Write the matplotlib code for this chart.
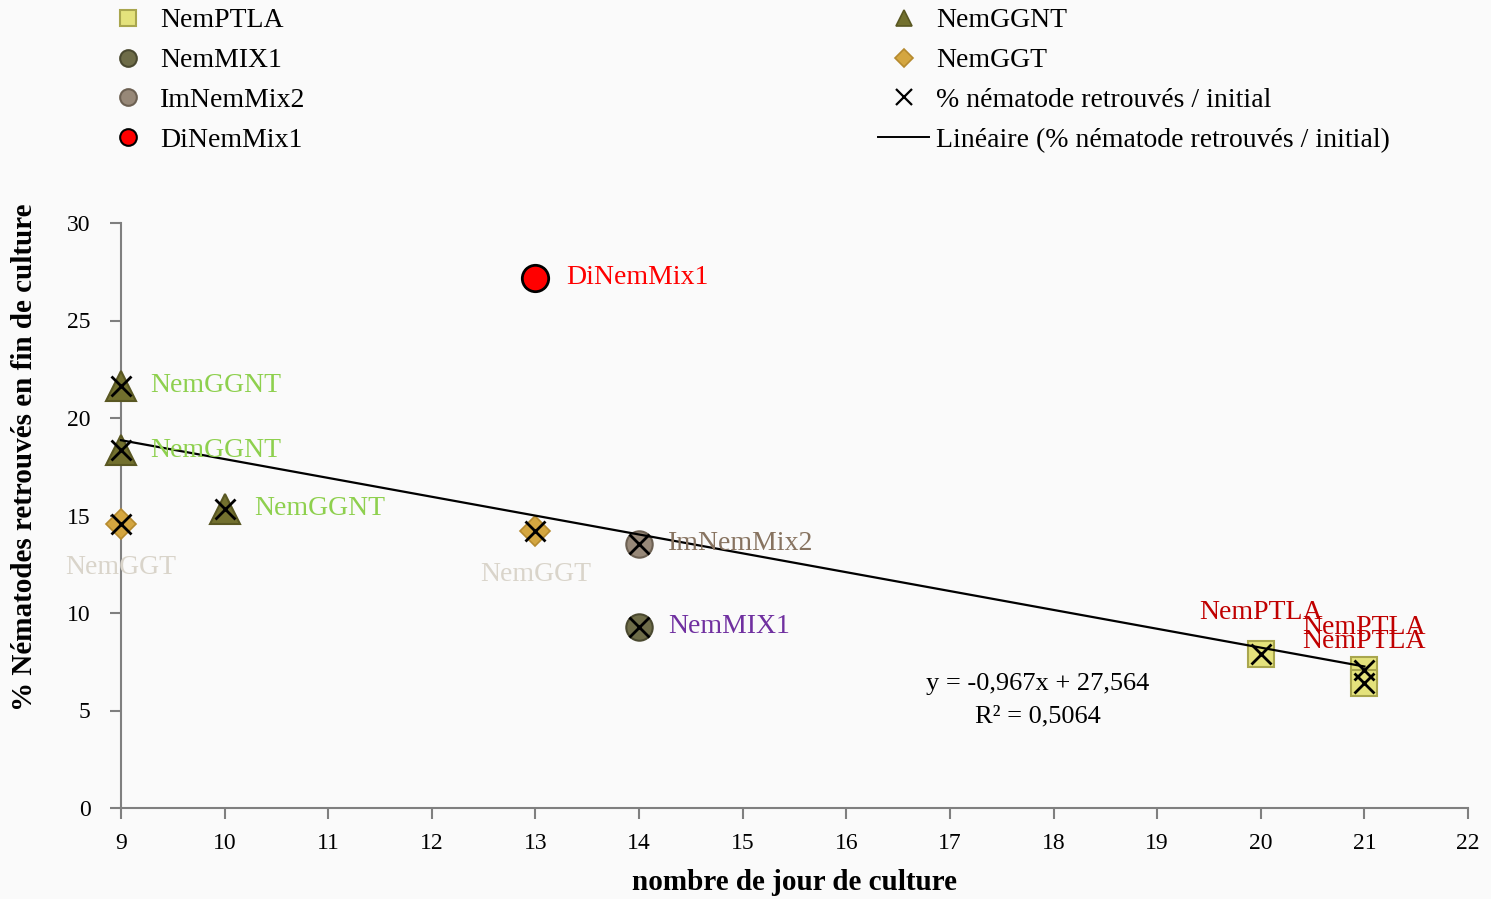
import numpy as np
import matplotlib.pyplot as plt
from matplotlib.lines import Line2D

plt.rcParams['font.family'] = ['Liberation Serif', 'DejaVu Serif']

# jours de culture / % nematodes retrouves, par type d'inoculum
ptla_x = [20, 21, 21]
ptla_y = [7.9, 7.1, 6.4]
mix1_x = [14]
mix1_y = [9.3]
immix2_x = [14]
immix2_y = [13.55]
dimix1_x = [13]
dimix1_y = [27.2]
ggnt_x = [9, 9, 10]
ggnt_y = [21.65, 18.35, 15.35]
ggt_x = [9, 13]
ggt_y = [14.55, 14.2]

# droite de tendance (Excel)
pente = -0.967
ordonnee = 27.564
r2 = 0.5064

all_x = ptla_x + mix1_x + immix2_x + dimix1_x + ggnt_x + ggt_x
all_y = ptla_y + mix1_y + immix2_y + dimix1_y + ggnt_y + ggt_y

W, H = 1491, 899
fig = plt.figure(figsize=(W / 100, H / 100), dpi=100, facecolor='#fafafa')
ax = fig.add_axes([121 / W, 91 / H, 1347 / W, 585 / H])
ax.set_facecolor('#fafafa')

ms = 19
pts = dict(ls='none', clip_on=False)
ax.plot(ptla_x, ptla_y, marker='s', ms=ms, mfc='#e4e27c', mec='#a9a64e', mew=1.5, zorder=3, **pts)
ax.plot(mix1_x, mix1_y, marker='o', ms=ms, mfc='#6e6c48', mec='#4a4930', mew=1.5, zorder=3, **pts)
ax.plot(immix2_x, immix2_y, marker='o', ms=ms, mfc='#978878', mec='#6c6052', mew=1.5, zorder=3, **pts)
ax.plot(ggnt_x, ggnt_y, marker='^', ms=ms + 2, mfc='#72702e', mec='#595722', mew=1.5, zorder=3, **pts)
ax.plot(ggt_x, ggt_y, marker='D', ms=ms - 4, mfc='#d4a640', mec='#b58a2e', mew=1.2, zorder=3, **pts)
ax.plot(all_x, all_y, marker='x', ms=15, mec='black', mew=2, zorder=4, **pts)
ax.plot(dimix1_x, dimix1_y, marker='o', ms=ms, mfc='#ff0000', mec='black', mew=2, zorder=5, **pts)

xl = np.array([min(all_x), max(all_x)])
ax.plot(xl, pente * xl + ordonnee, color='black', lw=1.6, zorder=4, clip_on=False)

fs = 20
def etiquette(xs, ys, texte, couleur, dx, dy, ha='left'):
    for x, y in zip(xs, ys):
        ax.annotate(texte, (x, y), xytext=(dx, dy), textcoords='offset points',
                    color=couleur, fontsize=fs, ha=ha, va='center', zorder=6)

etiquette(ggnt_x, ggnt_y, 'NemGGNT', '#8ed04e', 21, 0)
etiquette(ggt_x, ggt_y, 'NemGGT', '#d9d4ca', 0, -31, ha='center')
etiquette(immix2_x, immix2_y, 'ImNemMix2', '#877360', 21, 0)
etiquette(mix1_x, mix1_y, 'NemMIX1', '#7030a0', 21, 0)
etiquette(dimix1_x, dimix1_y, 'DiNemMix1', '#ff0000', 22, 0)
etiquette(ptla_x, ptla_y, 'NemPTLA', '#c00000', 0, 30, ha='center')

eq = 'y = %sx + %s' % (('%.3f' % pente).replace('.', ','), ('%.3f' % ordonnee).replace('.', ','))
fig.text(1038 / W, 1 - 684 / H, eq, fontsize=19, ha='center', va='center')
fig.text(1038 / W, 1 - 716 / H, 'R² = %s' % ('%.4f' % r2).replace('.', ','),
         fontsize=19, ha='center', va='center')

ax.set_xlim(9, 22)
ax.set_ylim(0, 30)
ax.set_xticks(range(9, 23))
ax.set_yticks(range(0, 31, 5))
for s in ['top', 'right']:
    ax.spines[s].set_visible(False)
for s in ['left', 'bottom']:
    ax.spines[s].set_color('#7f7f7f')
    ax.spines[s].set_linewidth(1.5)
ax.tick_params(axis='both', colors='#7f7f7f', length=8, width=1.5, labelcolor='black', labelsize=17)
ax.tick_params(axis='x', pad=10)
ax.tick_params(axis='y', pad=14)

fig.text(794 / W, 1 - 882 / H, 'nombre de jour de culture', fontsize=21, fontweight='bold',
         ha='center', va='center')
fig.text(25 / W, 1 - 457 / H, '% Nématodes retrouvés en fin de culture', fontsize=21,
         fontweight='bold', rotation=90, ha='center', va='center')

# legende en deux colonnes
h1 = [Line2D([], [], ls='none', marker='s', ms=12, mfc='#e4e27c', mec='#a9a64e', mew=1.5),
      Line2D([], [], ls='none', marker='o', ms=12, mfc='#6e6c48', mec='#4a4930', mew=1.5),
      Line2D([], [], ls='none', marker='o', ms=12, mfc='#978878', mec='#6c6052', mew=1.5),
      Line2D([], [], ls='none', marker='o', ms=12, mfc='#ff0000', mec='black', mew=1.5)]
l1 = ['NemPTLA', 'NemMIX1', 'ImNemMix2', 'DiNemMix1']
h2 = [Line2D([], [], ls='none', marker='^', ms=12, mfc='#72702e', mec='#595722', mew=1.2),
      Line2D([], [], ls='none', marker='D', ms=9, mfc='#d4a640', mec='#b58a2e', mew=1.2),
      Line2D([], [], ls='none', marker='x', ms=12, mec='black', mew=1.6),
      Line2D([], [], color='black', lw=1.4)]
l2 = ['NemGGNT', 'NemGGT', '% nématode retrouvés / initial', 'Linéaire (% nématode retrouvés / initial)']

kw = dict(frameon=False, fontsize=fs, handlelength=1.85, handletextpad=0.25,
          labelspacing=0.52, borderpad=0, borderaxespad=0, loc='upper left')
fig.legend(h1, l1, bbox_to_anchor=(102 / W, 1 - 8 / H), **kw)
fig.legend(h2, l2, bbox_to_anchor=(878 / W, 1 - 8 / H), **kw)

fig.savefig('out.png', dpi=100, facecolor=fig.get_facecolor())
